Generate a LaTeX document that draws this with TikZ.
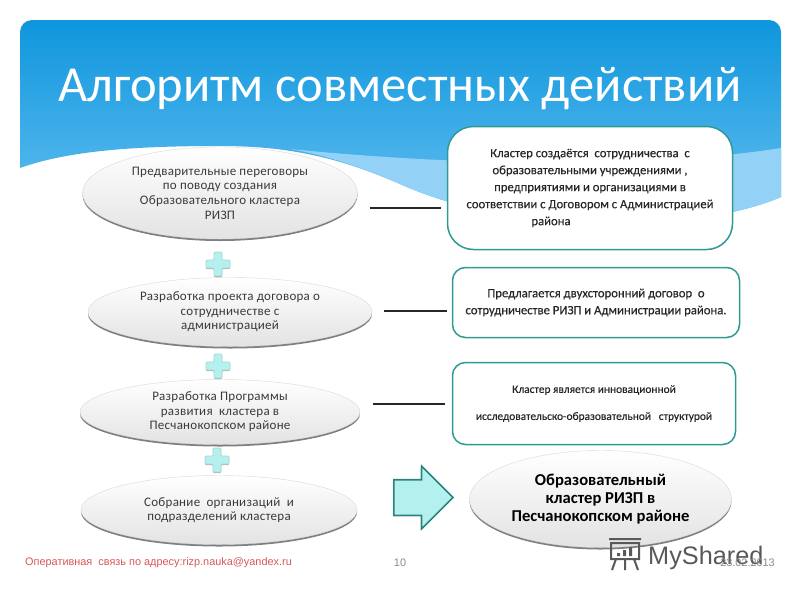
\documentclass[tikz,border=0pt]{standalone}
\usepackage{fontspec}
\setmainfont{Carlito}
\newfontfamily\footfont{Liberation Sans}
\newfontfamily\stagefont[LetterSpace=2]{Carlito}
\newfontfamily\notefont[FakeBold=0.25]{Carlito}
\usepackage{tikz}
\usetikzlibrary{shapes.geometric, shapes.arrows, shadows, positioning, calc}
\usepackage{xcolor}
\definecolor{headtop}{HTML}{0E96DD}
\definecolor{headlow}{HTML}{6CC2F2}
\definecolor{headband}{HTML}{93D2F6}
\definecolor{tealline}{HTML}{2F9A94}
\definecolor{aqua}{HTML}{B4F1EE}
\definecolor{inktext}{HTML}{3A3A3A}
\definecolor{redfoot}{HTML}{D9585A}
\definecolor{greyfoot}{HTML}{8A8A8A}
\tikzstyle{stage} = [ellipse, inner sep=0pt, align=center, text=inktext, draw=gray!30, top color=white, bottom color=gray!22, drop shadow={shadow xshift=0pt, shadow yshift=-2pt, fill=black, opacity=0.5}, font=\stagefont\fontsize{13}{14.6}\selectfont]
\tikzstyle{note} = [rectangle, inner sep=0pt, align=center, draw=tealline, line width=1.5pt, fill=white, text=black!85, font=\notefont\fontsize{12.7}{17}\selectfont]
\tikzstyle{link} = [line width=1.4pt, black!85]
\tikzstyle{plusmark} = [fill=aqua, draw=aqua!75!gray, line width=0.7pt, rounded corners=1pt, drop shadow={shadow xshift=0pt, shadow yshift=-1pt, fill=black, opacity=0.3}]
\tikzstyle{foot} = [inner sep=0pt, font=\footfont\fontsize{10.9}{12}\selectfont]

\begin{document}
\begin{tikzpicture}[x=1pt, y=-1pt]
    \useasboundingbox (0,0) rectangle (800,600);
    \fill [white] (0,0) rectangle (800,600);

    % header
    \shade [top color=headtop, bottom color=headlow] (20,32) arc (180:270:12) -- (769,20) arc (270:360:12) -- (781,197)
        .. controls (700,232) and (520,238) .. (400,184)
        .. controls (340,158) and (290,146) .. (220,146)
        .. controls (140,146) and (70,150) .. (20,168) -- cycle;
    \fill [headband] (290,149) .. controls (450,165) and (640,170) .. (781,148) -- (781,197)
        .. controls (700,232) and (520,238) .. (400,184)
        .. controls (365,169) and (330,156) .. (290,149) -- cycle;
    \node (title) [inner sep=0pt, text=white, font=\fontsize{50.5}{58}\selectfont] at (400,88.5) {Алгоритм совместных действий};

    \node (s1) [stage, minimum width=275pt, minimum height=92pt] at (220,193) {Предварительные переговоры\\по поводу создания\\Образовательного кластера\\РИЗП};
    \node (s2) [stage, minimum width=284pt, minimum height=69pt, node distance=119pt, below of=s1, xshift=10pt] {Разработка проекта договора о\\сотрудничестве с\\администрацией};
    \node (s3) [stage, minimum width=280pt, minimum height=65pt, node distance=100pt, below of=s2, xshift=-10pt] {Разработка Программы\\развития~ кластера в\\Песчанокопском районе};
    \node (s4) [stage, minimum width=276pt, minimum height=69pt, node distance=98pt, below of=s3, xshift=-1pt] {Собрание~ организаций~ и\\подразделений кластера};

    \node (n1) [note, rounded corners=26pt, minimum width=285pt, minimum height=123pt] at (590,188) {Кластер создаётся~ сотрудничества~ с\\образовательными учреждениями ,\\предприятиями и организациями в\\соответствии с Договором с Администрацией\\района\hspace*{78pt}};
    \node (n2) [note, rounded corners=13pt, minimum width=287pt, minimum height=70pt, node distance=114.5pt, below of=n1, xshift=6pt] {Предлагается двухсторонний договор~ о\\сотрудничестве РИЗП и Администрации района.};
    \node (n3) [note, rounded corners=13pt, minimum width=283pt, minimum height=82pt, node distance=101pt, below of=n2, xshift=-2pt, font=\notefont\fontsize{11.4}{27}\selectfont] {Кластер является инновационной\\исследовательско-образовательной~~ структурой};
    \node (result) [stage, minimum width=262pt, minimum height=97pt, node distance=95.5pt, below of=n3, xshift=6.5pt, text=black, font=\bfseries\fontsize{16.6}{18}\selectfont] {Образовательный\\кластер РИЗП в\\Песчанокопском районе};

    \draw [link] ([shift={(12,15)}]s1.east) -- ([shift={(-6,20)}]n1.west);
    \draw [link] ([shift={(12,-1)}]s2.east) -- ([shift={(-5,8.5)}]n2.west);
    \draw [link] ([shift={(13,-8)}]s3.east) -- ([shift={(-7,0.5)}]n3.west);

    % plus signs
    \foreach \px/\py in {218/264, 218/366, 217/460}
        \draw [plusmark] (\px-4,\py-12) -- ++(8,0) -- ++(0,8) -- ++(8,0) -- ++(0,8) -- ++(-8,0) -- ++(0,8) -- ++(-8,0) -- ++(0,-8) -- ++(-8,0) -- ++(0,-8) -- ++(8,0) -- cycle;

    \node (go) [single arrow, single arrow head extend=13.5pt, single arrow head indent=0pt, minimum height=59pt, inner sep=0pt, fill=aqua, draw=tealline!85!black, line width=1.6pt, drop shadow={shadow xshift=-1pt, shadow yshift=-1pt, fill=black, opacity=0.35}] at (414.5,497.5) {\rule{0pt}{34pt}};

    % footer
    \node (mail) [foot, text=redfoot, anchor=west] at (25,563) {Оперативная~ связь по адресу:rizp.nauka@yandex.ru};
    \node (page) [foot, text=greyfoot] at (400,563) {10};
    \node (mark) [inner sep=0pt, anchor=west, text=black!65, font=\footfont\fontsize{25.3}{30}\selectfont] at (648,558) {MyShared};
    \node (date) [foot, text=greyfoot, anchor=east] at (775,563) {23.02.2013};
    \draw [black!65, line width=2pt] (611,543) rectangle (639,559) (616,559) -- (612,570) (634,559) -- (638,570) (625,559) -- (625,570) (609,539) -- (641,539);
    \fill [black!65] (617,553) rectangle (620,556) (623,550) rectangle (626,556) (629,547) rectangle (632,556);
\end{tikzpicture}
\end{document}
